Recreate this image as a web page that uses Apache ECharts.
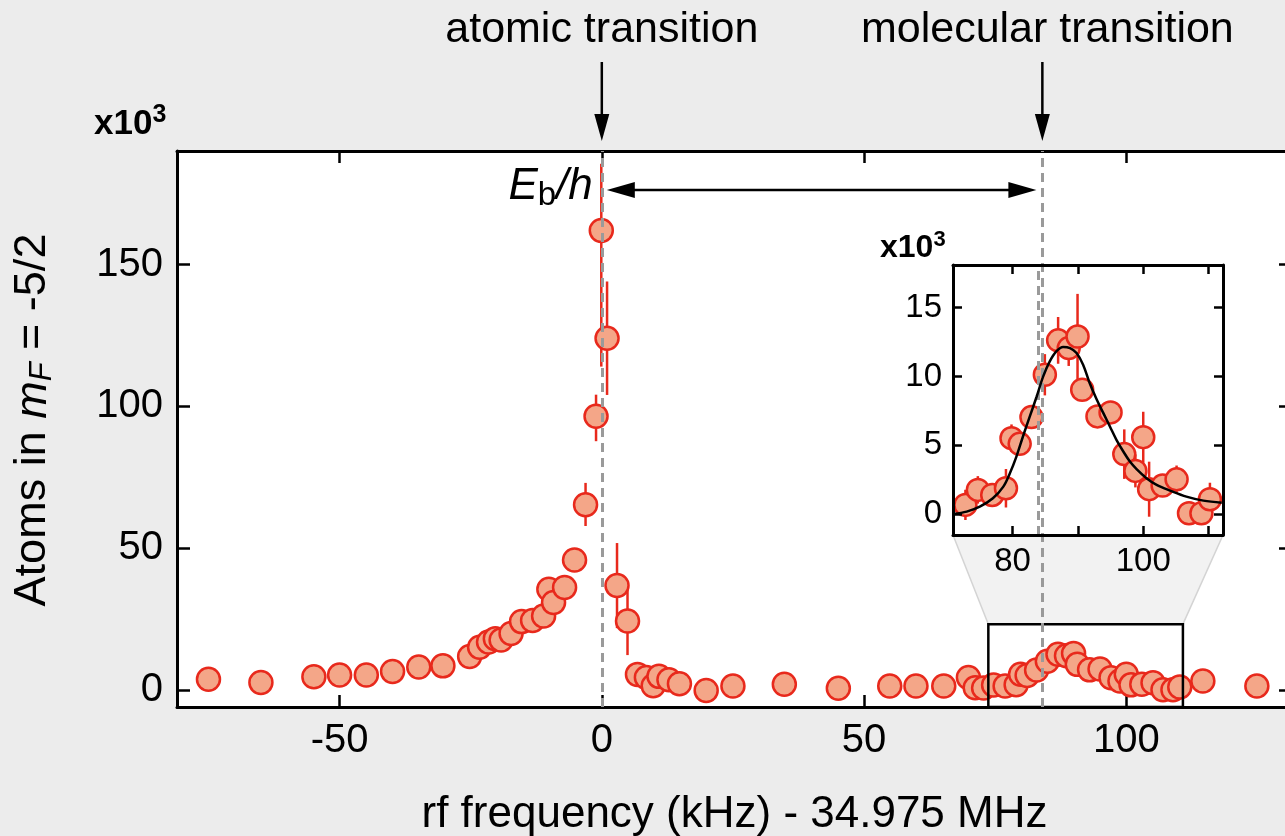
<!DOCTYPE html>
<html><head><meta charset="utf-8">
<script src="https://cdn.jsdelivr.net/npm/echarts@6/dist/echarts.min.js"></script>
<style>html,body{margin:0;padding:0;background:#ececec}#c{width:1285px;height:836px}</style>
</head><body><div id="c"></div>
<script>
// ---------- data (x: kHz, y: thousands of atoms) ----------
const mainX = [-75, -65, -54.9, -50, -44.9, -39.9, -34.9, -30.3, -25.2, -23.3, -21.6, -20.3, -19.2, -17.3, -15.3, -13.2, -11.1, -10.1, -9.2, -7.1, -5.2, -3.1, -1.1, -0.1, 1.0, 2.9, 4.9, 6.8, 8.5, 9.8, 10.9, 12.8, 14.8, 19.9, 25.0, 34.8, 45.1, 54.9, 59.9, 65.2, 69.9, 71.2, 114.6, 124.9];
const mainY = [3.8, 2.6, 4.7, 5.3, 5.3, 6.5, 8.1, 8.5, 11.8, 15.1, 16.9, 18.1, 17.6, 19.9, 24.1, 24.5, 26.1, 35.5, 30.8, 36.1, 45.8, 65.3, 96.5, 162, 124, 36.8, 24.3, 5.5, 4.4, 1.5, 4.8, 3.6, 2.2, -0.2, 1.4, 2.0, 0.6, 1.4, 1.4, 1.4, 4.4, 0.8, 3.2, 1.4];
const mainErrLo = [0, 0, 0, 0, 0, 0, 0, 0, 0, 0, 0, 0, 0, 0, 0, 0, 0, 0, 0, 0, 0, 7.5, 8.8, 48, 20, 15, 12, 0, 0, 0, 0, 0, 0, 0, 0, 0, 0, 0, 0, 0, 0, 0, 0, 0];
const mainErrHi = [0, 0, 0, 0, 0, 0, 0, 0, 0, 0, 0, 0, 0, 0, 0, 0, 0, 0, 0, 0, 0, 7.7, 7.6, 23.5, 20, 15, 11.5, 0, 0, 0, 0, 0, 0, 0, 0, 0, 0, 0, 0, 0, 0, 0, 0, 0];

const insetX = [72.8, 74.7, 76.9, 79.0, 79.85, 81.1, 82.9, 84.95, 86.98, 88.6, 89.95, 90.66, 93.0, 95.0, 97.1, 98.8, 100.0, 100.9, 102.96, 105.1, 107.0, 108.9, 110.2];
const insetY = [0.66, 1.75, 1.38, 1.87, 5.51, 5.1, 7.04, 10.12, 12.62, 12.06, 12.9, 9.03, 7.09, 7.38, 4.35, 3.13, 5.58, 1.8, 2.06, 2.52, 0.05, 0.05, 1.07];
const insetErr = [1.1, 1.0, 0.8, 1.4, 1.0, 0.6, 0.6, 1.5, 1.7, 1.3, 3.1, 0.5, 0.5, 0.8, 1.8, 1.2, 1.85, 2.0, 0.6, 1.0, 0, 0, 1.2];

const fitX = [71.0, 73.0, 75.0, 77.0, 78.6, 79.6, 80.6, 81.6, 82.65, 83.7, 84.7, 85.7, 86.7, 87.75, 88.8, 89.8, 90.8, 91.8, 92.9, 93.9, 94.9, 95.9, 96.95, 97.96, 98.98, 100.5, 102.05, 104.1, 106.6, 109.2, 112.0];
const fitY = [0.0, 0.17, 0.53, 1.14, 1.99, 2.96, 4.17, 5.63, 7.09, 8.54, 10.0, 11.09, 11.82, 12.14, 12.06, 11.7, 10.85, 9.52, 8.3, 7.33, 6.36, 5.39, 4.54, 3.81, 3.26, 2.6, 2.11, 1.7, 1.26, 0.97, 0.82];

const xTicks = [-50, 0, 50, 100];
const yTicks = [0, 50, 100, 150];
const insetXTicks = [80, 90, 100, 110];
const insetXLabels = [80, 100];
const insetYTicks = [0, 5, 10, 15];
const atomicLine = 0;
const molecularLine = 84;
const zoomBox = [73.7, 110.8, 23.2]; // x from, x to, y top (main axes)

// ---------- styling ----------
const FONT = '"Liberation Sans", Arial, Helvetica, sans-serif';
const RED = '#e8291c';
const FILL = '#f4a688';
const MAIN_X = [-81, 131.6], MAIN_Y = [-6, 190];
const INS_X = [70.9, 112.2], INS_Y = [-1.53, 18.1];

function errRender(params, api) {
  const x = api.value(0), y = api.value(1), lo = api.value(2), hi = api.value(3);
  if (!(lo > 0 || hi > 0)) return null;
  const p1 = api.coord([x, y - lo]), p2 = api.coord([x, y + hi]);
  return { type: 'line', shape: { x1: p1[0], y1: p1[1], x2: p2[0], y2: p2[1] },
           style: { stroke: RED, lineWidth: 2.5 } };
}

const mainPts = mainX.map((x, i) => [x, mainY[i]]).concat(insetX.map((x, i) => [x, insetY[i]]));
const mainErr = mainX.map((x, i) => [x, mainY[i], mainErrLo[i], mainErrHi[i]])
  .concat(insetX.map((x, i) => [x, insetY[i], insetErr[i], insetErr[i]]));
const insPts = insetX.map((x, i) => [x, insetY[i]]);
const insErr = insetX.map((x, i) => [x, insetY[i], insetErr[i], insetErr[i]]);
const fitPts = fitX.map((x, i) => [x, fitY[i]]);

function axisBase(min, max, pos, gridIndex, tickVals, labelVals, fs, margin, tickLen, lw, z) {
  return {
    type: 'value', gridIndex, min, max, position: pos, z,
    axisLine: { show: true, onZero: false, lineStyle: { color: '#000', width: lw } },
    axisTick: { show: true, inside: true, length: tickLen, customValues: tickVals, lineStyle: { color: '#000', width: lw - 0.5 } },
    axisLabel: labelVals ? { show: true, customValues: labelVals, color: '#000', fontFamily: FONT, fontSize: fs, margin } : { show: false },
    splitLine: { show: false }
  };
}

const chart = echarts.init(document.getElementById('c'), null, { renderer: 'canvas' });
const xMainB = axisBase(MAIN_X[0], MAIN_X[1], 'bottom', 0, xTicks, xTicks, 40, 14, 12, 3, 1);
xMainB.name = 'rf frequency (kHz) - 34.975 MHz';
xMainB.nameLocation = 'middle';
xMainB.nameGap = 86;
xMainB.nameTextStyle = { fontFamily: FONT, fontSize: 44, color: '#000' };

chart.setOption({
  backgroundColor: '#ececec',
  animation: false,
  grid: [
    { left: 177, top: 151, width: 1115, height: 556, show: true, backgroundColor: '#fff', borderWidth: 0, containLabel: false, outerBoundsMode: 'none' },
    { left: 953, top: 265, width: 270, height: 270, show: true, backgroundColor: '#fff', borderWidth: 0, z: 3, containLabel: false, outerBoundsMode: 'none' }
  ],
  xAxis: [
    xMainB,
    axisBase(MAIN_X[0], MAIN_X[1], 'top', 0, xTicks, null, 40, 10, 12, 3, 1),
    axisBase(INS_X[0], INS_X[1], 'bottom', 1, insetXTicks, insetXLabels, 33, 10, 9, 3, 6),
    axisBase(INS_X[0], INS_X[1], 'top', 1, insetXTicks, null, 33, 9, 9, 3, 6)
  ],
  yAxis: [
    axisBase(MAIN_Y[0], MAIN_Y[1], 'left', 0, yTicks, yTicks, 40, 14, 13, 3, 1),
    axisBase(MAIN_Y[0], MAIN_Y[1], 'right', 0, yTicks, null, 40, 14, 13, 3, 1),
    axisBase(INS_Y[0], INS_Y[1], 'left', 1, insetYTicks, insetYTicks, 33, 11, 9, 3, 6),
    axisBase(INS_Y[0], INS_Y[1], 'right', 1, insetYTicks, null, 33, 11, 9, 3, 6)
  ],
  series: [
    { type: 'custom', xAxisIndex: 0, yAxisIndex: 0, renderItem: errRender, data: mainErr, encode: { x: 0, y: 1 }, z: 2, silent: true,
      markLine: { silent: true, symbol: 'none', label: { show: false },
        lineStyle: { color: '#9a9a9a', width: 3, type: [9, 6] },
        data: [{ xAxis: atomicLine }, { xAxis: molecularLine }] } },
    { type: 'scatter', xAxisIndex: 0, yAxisIndex: 0, data: mainPts, symbol: 'circle', symbolSize: 23, z: 2,
      itemStyle: { color: FILL, borderColor: RED, borderWidth: 2.5, opacity: 1 } },
    { type: 'custom', xAxisIndex: 2, yAxisIndex: 2, renderItem: errRender, data: insErr, encode: { x: 0, y: 1 }, z: 4, silent: true,
      markLine: { silent: true, symbol: 'none', label: { show: false },
        lineStyle: { color: '#9a9a9a', width: 3, type: [9, 6] },
        data: [{ xAxis: molecularLine }] } },
    { type: 'scatter', xAxisIndex: 2, yAxisIndex: 2, data: insPts, symbol: 'circle', symbolSize: 22, z: 4,
      itemStyle: { color: FILL, borderColor: RED, borderWidth: 2.5, opacity: 1 } },
    { type: 'line', xAxisIndex: 2, yAxisIndex: 2, data: fitPts, smooth: 0.35, showSymbol: false, z: 5,
      lineStyle: { color: '#000', width: 2.5 } }
  ]
});

// ---------- annotations (positioned from axis coordinates) ----------
const P = (x, y) => chart.convertToPixel({ xAxisIndex: 0, yAxisIndex: 0 }, [x, y]);
const PI = (x, y) => chart.convertToPixel({ xAxisIndex: 2, yAxisIndex: 2 }, [x, y]);
const ax = P(atomicLine, 0)[0], mx = P(molecularLine, 0)[0];
const rTL = P(zoomBox[0], zoomBox[2]), rBR = P(zoomBox[1], MAIN_Y[0]), rTR = P(zoomBox[1], zoomBox[2]);
const iBL = PI(INS_X[0], INS_Y[0]), iBR = PI(INS_X[1], INS_Y[0]);

function downArrow(x) {
  return [
    { type: 'line', z: 20, shape: { x1: x, y1: 62, x2: x, y2: 120 }, style: { stroke: '#000', lineWidth: 2.5 } },
    { type: 'polygon', z: 20, shape: { points: [[x - 7.5, 114], [x + 7.5, 114], [x, 141]] }, style: { fill: '#000' } }
  ];
}
const ey = 190;
const eL = ax + 5, eR = mx - 6;
const graphics = [
  { type: 'polygon', z: 3, shape: { points: [iBL, iBR, rTR, rTL] }, style: { fill: '#f2f2f2', stroke: '#d4d4d4', lineWidth: 1.5 } },
  { type: 'rect', z: 3, shape: { x: rTL[0], y: rTL[1], width: rBR[0] - rTL[0], height: rBR[1] - rTL[1] }, style: { fill: null, stroke: '#000', lineWidth: 2.5 } },
  ...downArrow(ax), ...downArrow(mx),
  { type: 'line', z: 20, shape: { x1: eL + 20, y1: ey, x2: eR - 20, y2: ey }, style: { stroke: '#000', lineWidth: 2.5 } },
  { type: 'polygon', z: 20, shape: { points: [[eL, ey], [eL + 28, ey - 8], [eL + 28, ey + 8]] }, style: { fill: '#000' } },
  { type: 'polygon', z: 20, shape: { points: [[eR, ey], [eR - 28, ey - 8], [eR - 28, ey + 8]] }, style: { fill: '#000' } },
  { type: 'text', z: 20, x: ax, y: 30, style: { text: 'atomic transition', fontFamily: FONT, fontSize: 43, fill: '#000', align: 'center', verticalAlign: 'middle' } },
  { type: 'text', z: 20, x: mx + 5, y: 30, style: { text: 'molecular transition', fontFamily: FONT, fontSize: 43, fill: '#000', align: 'center', verticalAlign: 'middle' } },
  { type: 'text', z: 20, x: ax - 9, y: 187, style: { text: '{i|E}{s|b}{i|/h}', align: 'right', verticalAlign: 'middle', fill: '#000',
      rich: { i: { fontFamily: FONT, fontSize: 44, fontStyle: 'italic', lineHeight: 50, verticalAlign: 'middle' },
              s: { fontFamily: FONT, fontSize: 33, lineHeight: 37, verticalAlign: 'bottom' } } } },
  { type: 'text', z: 20, x: 94, y: 124, style: { text: '{n|x10}{p|3}', align: 'left', verticalAlign: 'middle', fill: '#000',
      rich: { n: { fontFamily: FONT, fontSize: 35, fontWeight: 'bold', lineHeight: 42, verticalAlign: 'middle' },
              p: { fontFamily: FONT, fontSize: 25, fontWeight: 'bold', lineHeight: 26, verticalAlign: 'top' } } } },
  { type: 'text', z: 20, x: 880, y: 248, style: { text: '{n|x10}{p|3}', align: 'left', verticalAlign: 'middle', fill: '#000',
      rich: { n: { fontFamily: FONT, fontSize: 32, fontWeight: 'bold', lineHeight: 38, verticalAlign: 'middle' },
              p: { fontFamily: FONT, fontSize: 22, fontWeight: 'bold', lineHeight: 24, verticalAlign: 'top' } } } },
  { type: 'text', z: 20, x: 33, y: 420, rotation: Math.PI / 2,
    style: { text: '{n|Atoms in }{i|m}{s|F}{n| = -5/2}', align: 'center', verticalAlign: 'middle', fill: '#000',
      rich: { n: { fontFamily: FONT, fontSize: 45, lineHeight: 50, verticalAlign: 'middle' },
              i: { fontFamily: FONT, fontSize: 45, fontStyle: 'italic', lineHeight: 50, verticalAlign: 'middle' },
              s: { fontFamily: FONT, fontSize: 31, fontStyle: 'italic', lineHeight: 36, verticalAlign: 'bottom' } } } }
];
chart.setOption({ graphic: graphics });
</script>
</body></html>
